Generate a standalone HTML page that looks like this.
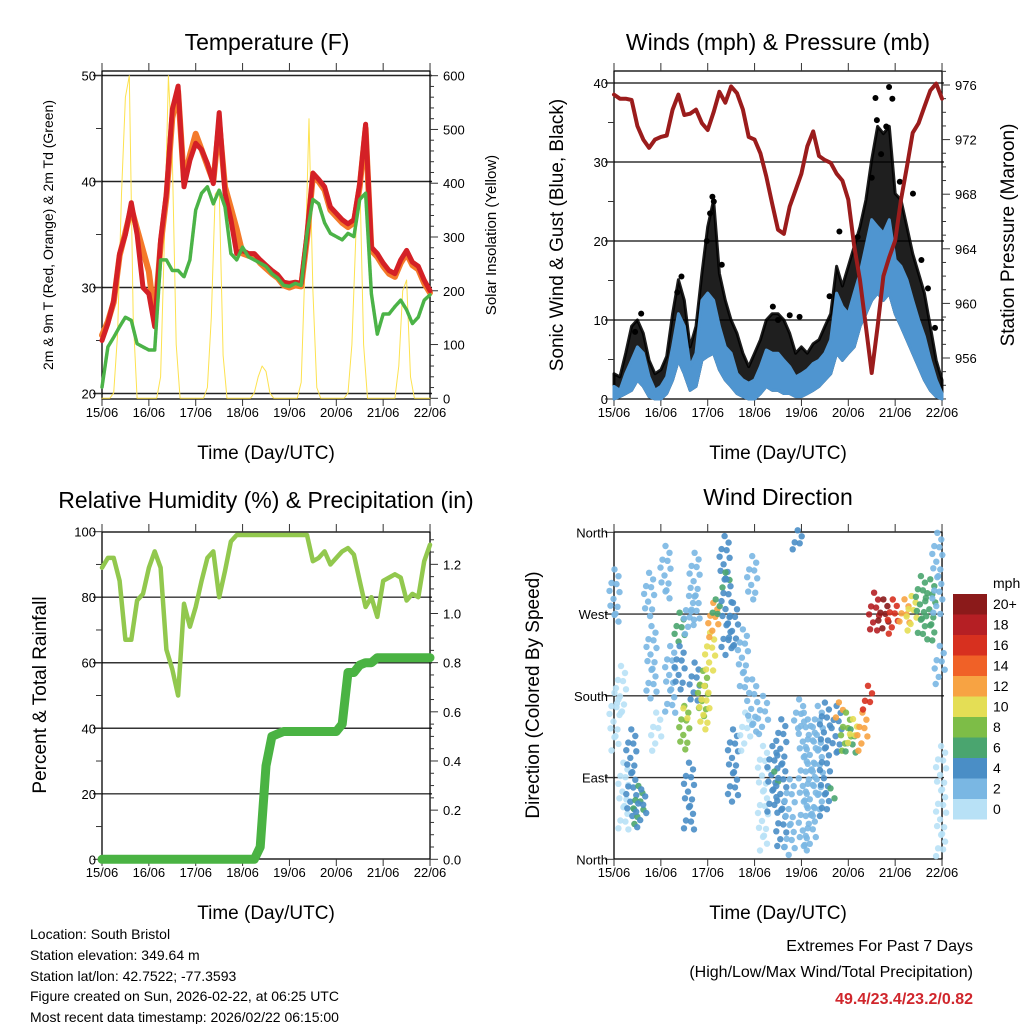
<!DOCTYPE html>
<html><head><meta charset="utf-8"><style>
body{margin:0;background:#fff}
svg{display:block;font-family:"Liberation Sans",Arial,sans-serif}
</style></head><body>
<svg id="root" width="1024" height="1024" viewBox="0 0 1024 1024" xmlns="http://www.w3.org/2000/svg">
<rect width="1024" height="1024" fill="#fff"/>
<g id="p1"></g>
<g id="p2"></g>
<g id="p3"></g>
<g id="p4"></g>
<text x="267" y="50" font-size="23" text-anchor="middle">Temperature (F)</text>
<text x="778" y="50" font-size="23" text-anchor="middle">Winds (mph) &amp; Pressure (mb)</text>
<text x="266" y="508" font-size="23" text-anchor="middle">Relative Humidity (%) &amp; Precipitation (in)</text>
<text x="778" y="505" font-size="23" text-anchor="middle">Wind Direction</text>
<text transform="translate(53,235) rotate(-90)" font-size="14" text-anchor="middle">2m &amp; 9m T (Red, Orange) &amp; 2m Td (Green)</text>
<text transform="translate(496,235) rotate(-90)" font-size="15" text-anchor="middle">Solar Insolation (Yellow)</text>
<text transform="translate(563,235) rotate(-90)" font-size="19" text-anchor="middle">Sonic Wind &amp; Gust (Blue, Black)</text>
<text transform="translate(1014,235) rotate(-90)" font-size="19" text-anchor="middle">Station Pressure (Maroon)</text>
<text transform="translate(46,695) rotate(-90)" font-size="19" text-anchor="middle">Percent &amp; Total Rainfall</text>
<text transform="translate(539,695) rotate(-90)" font-size="19" text-anchor="middle">Direction (Colored By Speed)</text>
<text x="266" y="459" font-size="19" text-anchor="middle">Time (Day/UTC)</text>
<text x="778" y="459" font-size="19" text-anchor="middle">Time (Day/UTC)</text>
<text x="266" y="919" font-size="19" text-anchor="middle">Time (Day/UTC)</text>
<text x="778" y="919" font-size="19" text-anchor="middle">Time (Day/UTC)</text>
<g font-size="14">
<text x="30" y="939">Location: South Bristol</text>
<text x="30" y="960">Station elevation: 349.64 m</text>
<text x="30" y="981">Station lat/lon: 42.7522; -77.3593</text>
<text x="30" y="1001">Figure created on Sun, 2026-02-22, at 06:25 UTC</text>
<text x="30" y="1022">Most recent data timestamp: 2026/02/22 06:15:00</text>
</g>
<text x="973" y="951" font-size="16" text-anchor="end">Extremes For Past 7 Days</text>
<text x="973" y="977" font-size="16" text-anchor="end">(High/Low/Max Wind/Total Precipitation)</text>
<text x="973" y="1004" font-size="16" font-weight="bold" fill="#d0262c" text-anchor="end">49.4/23.4/23.2/0.82</text>
<text x="993" y="588" font-size="14">mph</text>
<g id="cbar"></g>
</svg>
<script>
// ---------- data (samples every 1/8 day unless noted) ----------
const dayLabels = ["15/06","16/06","17/06","18/06","19/06","20/06","21/06","22/06"];
const tempRed = [25.0,26.6,28.8,33.2,35.0,38.0,35.0,30.0,29.4,26.3,34.5,38.9,46.8,49.0,39.5,42.0,43.6,43.0,41.7,39.8,46.5,38.9,36.4,33.2,33.5,33.2,33.2,32.6,32.1,31.6,31.2,30.5,30.4,30.5,30.4,35.0,40.8,40.2,39.5,37.6,37.0,36.4,36.0,36.4,39.8,45.4,33.8,33.2,32.3,31.6,31.3,32.6,33.5,32.4,32.0,30.7,29.7];
const tempOrange = [25.5,26.8,28.6,33.0,35.2,37.5,35.5,33.5,31.5,27.0,34.0,38.5,46.0,48.5,40.0,42.5,44.5,43.0,41.5,40.0,45.5,39.5,37.5,35.5,33.2,33.0,33.0,32.3,31.8,31.3,30.9,30.2,30.0,30.2,30.1,34.6,40.5,40.0,39.2,37.3,36.7,36.1,35.7,36.1,39.5,45.0,33.5,32.9,32.0,31.3,31.0,32.3,33.2,32.1,31.7,30.4,29.5];
const tempDew = [20.6,24.4,25.3,26.3,27.2,26.9,24.7,24.4,24.1,24.1,32.6,32.6,31.6,31.6,31.0,32.6,37.3,38.9,39.5,37.9,39.2,37.6,33.2,32.6,33.8,32.9,32.6,32.3,32.0,31.3,30.9,30.2,30.1,30.4,30.2,35.1,38.3,37.9,36.1,35.1,34.8,34.5,35.1,34.8,38.3,38.9,29.4,25.6,27.5,27.5,28.2,28.8,27.9,26.6,27.2,28.8,29.3];
// solar every 1/12 day
const solar = [0,0,0,10,120,380,560,600,150,0,0,0, 0,0,0,40,300,600,450,100,0,0,0,0, 0,0,0,20,150,380,390,80,0,0,0,0, 0,0,0,10,40,60,50,10,0,0,0,0, 0,0,0,30,250,520,200,20,0,0,0,0, 0,0,0,10,100,300,420,100,0,0,0,0, 0,0,0,0,60,200,220,40,0,0,0,0, 0];
const pressure = [975.3,975.0,975.0,974.9,973.0,972.0,971.4,972.0,972.2,972.3,974.2,975.3,973.8,973.9,974.2,973.2,972.7,974.0,975.5,974.7,975.9,975.4,974.2,972.2,972.0,971.0,969.3,967.3,965.4,965.1,967.1,968.3,969.5,971.5,972.6,970.8,970.5,970.3,969.5,969.0,967.6,964.2,961.7,958.3,954.9,958.3,962.0,963.4,964.6,967.6,970.0,972.5,973.2,974.4,975.6,976.1,975.0];
const gust = [3.2,2.8,5.8,9.2,10.0,8.3,4.9,3.2,3.7,5.4,10.8,15.1,12.5,6.6,9.2,15.9,21.8,25.2,15.9,12.5,10.0,8.3,5.8,4.1,5.8,7.5,10.0,10.8,10.8,10.0,8.3,5.8,6.6,5.8,7.0,7.5,9.2,10.8,16.8,14.3,16.8,19.3,21.8,25.2,30.3,34.5,33.6,34.5,26.0,25.2,21.8,18.4,15.9,13.4,9.2,4.9,2.4];
const windHigh = [1.6,1.1,3.2,4.9,6.6,5.8,2.8,1.1,1.6,2.8,6.6,10.8,9.2,4.1,5.8,12.5,13.4,12.5,9.2,6.6,5.8,3.2,2.4,2.0,2.4,4.1,6.2,5.8,5.8,4.9,4.1,2.8,3.2,3.7,4.5,4.9,5.8,7.5,13.4,11.7,10.8,13.4,15.9,19.3,22.7,21.8,21.0,22.7,17.6,16.8,15.1,12.5,10.0,7.9,4.9,2.4,0.7];
const windLow = [0,0.3,0.7,1.1,2.4,1.6,0.3,0,0,0.7,2.4,4.9,3.2,1.1,1.6,4.9,5.4,5.8,3.7,2.4,1.6,0.7,0.3,0,0,0.7,1.6,1.1,1.1,0.7,0.7,0.3,0.3,0.7,1.1,1.6,2.4,3.2,5.8,4.9,5.8,6.6,9.2,10.8,12.5,13.4,12.5,13.4,10.8,9.2,7.5,5.8,4.1,2.4,1.1,0.3,0];
const gustDotDays = [5.58,5.87,5.94,5.61,5.81,2.10,2.13,4.81,3.39,3.96,3.75,1.44,0.58,6.38,6.56,5.70,5.50,2.05,1.98,0.45,1.35,2.30,3.50,4.60,5.20,6.10,6.70,6.85];
const gustDotValues = [38.1,39.5,38.0,35.3,34.5,25.6,25.0,21.2,11.7,10.4,10.6,15.5,10.8,26.0,17.6,31.0,28.0,23.5,20.0,8.5,13.5,17.0,10.0,13.0,20.5,27.5,14.0,9.0];
const rh = [89,92,92,85,67,67,79,81,89,94,89,64,58,50,78,71,77,85,92,94,80,88,97,99,99,99,99,99,99,99,99,99,99,99,99,99,91,92,94,90,92,94,95,93,85,77,80,74,85,86,87,86,79,81,80,91,96];
const precip = [0,0,0,0,0,0,0,0,0,0,0,0,0,0,0,0,0,0,0,0,0,0,0,0,0,0,0,0.05,0.38,0.5,0.51,0.52,0.52,0.52,0.52,0.52,0.52,0.52,0.52,0.52,0.52,0.55,0.76,0.76,0.79,0.8,0.8,0.82,0.82,0.82,0.82,0.82,0.82,0.82,0.82,0.82,0.82];
// wind direction streaks: day, direction top/bottom (deg), speed (mph)
const dirDays = [0.01,0.01,0.15,0.2,0.37,0.52,0.58,0.75,0.8,0.9,1.1,1.2,1.4,1.4,1.5,1.48,1.6,1.6,1.72,1.72,1.9,1.93,2.05,2.12,2.17,2.36,2.38,2.4,2.54,2.54,2.75,2.8,2.95,2.95,3.18,3.18,3.38,3.42,3.57,3.75,3.92,3.95,4.05,4.2,4.35,4.5,4.62,4.75,4.8,4.95,5.05,5.1,5.3,5.42,5.55,5.75,5.95,6.2,6.35,6.55,6.75,6.9,6.95,6.98];
const dirTop = [316.7,180.9,210.3,103.9,140.6,78.2,74.5,313,254.3,158.9,342.4,232.3,269,232.3,166.3,162.6,287.4,103.9,335,214,205,188.3,247,280,283.7,353.4,313,305.7,280,140.6,250.7,158.9,331.4,195.6,122.2,177.3,122.2,92.9,151.6,85.6,360,173.6,158.9,144.3,166.3,170,74.5,166.3,170,158.9,140.6,151.6,158.9,188.3,291,283.7,283.7,283.7,287.4,309.4,305.7,357,232.3,122.2];
const dirBottom = [261.7,122.2,158.9,30.5,48.9,41.5,37.9,269,177.3,122.2,287.4,158.9,239.7,188.3,122.2,155.3,250.7,30.5,258,173.6,158.9,144.3,206.6,247,269,305.7,302,225,232.3,63.5,188.3,122.2,287.4,140.6,12.2,140.6,48.9,85.6,12.2,4.8,342.4,144.3,12.2,12.2,48.9,48.9,67.2,115,158.9,122.2,115,129.6,122.2,166.3,250.7,254.3,250.7,258,254.3,247,239.7,269,195.6,4.8];
const dirSpeed = [2,1,1,0,4,6,4,2,3,1,2,2,6,4,8,10,3,4,2,4,8,10,11,12,7,4,6,4,4,4,3,1,2,2,1,2,4,6,4,3,4,2,3,2,3,4,6,5,12,8,6,10,13,16,19,20,16,12,10,7,6,2,2,1];
const speedColors = ["#b8e1f6","#7ab7e3","#4a8ec6","#4aa56f","#7dbd47","#e4de55","#f7a343","#f06127","#d7301f","#b51f24","#8b1a1a"];
const speedLabels = ["0","2","4","6","8","10","12","14","16","18","20+"];

// ---------- helpers ----------
const NS="http://www.w3.org/2000/svg";
function el(tag, parent, attrs){const e=document.createElementNS(NS,tag);for(const k in attrs)e.setAttribute(k,attrs[k]);parent.appendChild(e);return e;}
const X1=d=>102+d*46.86, X2=d=>614+d*46.86;
const yT=v=>393.5-(v-20)*10.6, yS=v=>398.3-v*0.5377;
const yW=v=>399-v*7.9, yP=v=>85+(976-v)*13.65;
const yR=v=>859.3-v*3.276, yPr=v=>859.3-v*245.8;
const yD=v=>859.3-v*0.9083;
function pts(vals, X, Y, step){return vals.map((v,i)=>X(i*step).toFixed(1)+","+Y(v).toFixed(1)).join(" ");}
function series(parent, vals, X, Y, step, color, w, name){
  const e=el("polyline",parent,{points:pts(vals,X,Y,step),fill:"none",stroke:color,"stroke-width":w,"stroke-linejoin":"round","stroke-linecap":"round"});
  
  
  return e;
}
function band(parent, lo, hi, X, Y, step, color, name, op){
  const a=hi.map((v,i)=>X(i*step).toFixed(1)+","+Y(v).toFixed(1));
  const b=lo.map((v,i)=>X(i*step).toFixed(1)+","+Y(v).toFixed(1)).reverse();
  const e=el("polygon",parent,{points:a.concat(b).join(" "),fill:color,stroke:color,"stroke-width":3,"stroke-linejoin":"round","fill-opacity":op,"stroke-opacity":op});
  
  
}
function frame(g, x0, X, top, bottom, leftTicks, rightTicks, grid, gridColor){
  const x1=X(7);
  grid.forEach(y=>{const e=el("line",g,{x1:x0-9,x2:x1+2,y1:y,y2:y,stroke:gridColor,"stroke-width":1.4});
    
    });
  const r=el("rect",g,{x:x0,y:top,width:x1-x0,height:bottom-top,fill:"none",stroke:"#000","stroke-width":1.3});
  
  
  for(let d=0;d<=7;d++){
    const x=X(d);
    el("line",g,{x1:x,x2:x,y1:top-8,y2:top,stroke:"#333","stroke-width":1});
    el("line",g,{x1:x,x2:x,y1:bottom,y2:bottom+7,stroke:"#333","stroke-width":1});
    const t=el("text",g,{x:x,y:bottom+18,"font-size":13,"text-anchor":"middle"});
    t.textContent=dayLabels[d];
    
    
  }
  leftTicks.forEach(([y,lab,maj])=>{
    el("line",g,{x1:x0-(maj?9:6),x2:x0,y1:y,y2:y,stroke:"#333","stroke-width":1});
    if(lab!==null){const t=el("text",g,{x:x0-6,y:y+5,"font-size":13,"text-anchor":"end"});t.textContent=lab;
      
      }
  });
  rightTicks.forEach(([y,lab,maj])=>{
    el("line",g,{x1:x1,x2:x1+(maj?8:4),y1:y,y2:y,stroke:"#333","stroke-width":1});
    if(lab!==null){const t=el("text",g,{x:x1+13,y:y+5,"font-size":13});t.textContent=lab;
      
      }
  });
}

// ---------- panel 1: temperature ----------
const p1=document.getElementById("p1");
{
  const lt=[],rt=[];
  for(let v=20;v<=50;v+=5)lt.push([yT(v),v%10==0?String(v):null,v%10==0]);
  for(let v=0;v<=600;v+=20)rt.push([yS(v),v%100==0?String(v):null,v%100==0]);
  frame(p1,102,X1,71,399,lt,rt,[yT(20),yT(30),yT(40),yT(50)],"#222");
  series(p1,solar,X1,yS,1/12,"#fde24f",1,"solar-insolation-line");
  series(p1,tempOrange,X1,yT,1/8,"#f47a2a",6,"temperature-9m-line");
  series(p1,tempRed,X1,yT,1/8,"#d42026",5,"temperature-2m-line");
  const g=series(p1,tempDew,X1,yT,1/8,"#4bb347",3.5,"dewpoint-line");
  g.setAttribute("stroke-dasharray","3 1");
}
// ---------- panel 2: winds & pressure ----------
const p2=document.getElementById("p2");
{
  const lt=[],rt=[];
  for(let v=0;v<=40;v+=5)lt.push([yW(v),v%10==0?String(v):null,v%10==0]);
  for(let v=953;v<=977;v+=1)rt.push([yP(v),v%4==0?String(v):null,v%4==0]);
  frame(p2,614,X2,71,399,lt,rt,[yW(10),yW(20),yW(30),yW(40)],"#333");
  band(p2,windLow,gust,X2,yW,1/8,"#000","gust-band",0.88);
  gustDotDays.forEach((d,i)=>{
    const c=el("circle",p2,{cx:X2(d),cy:yW(gustDotValues[i]),r:3,fill:"#000"});
    
    
  });
  band(p2,windLow,windHigh,X2,yW,1/8,"#4f95d0","sonic-wind-band",1);
  series(p2,pressure,X2,yP,1/8,"#9b1c1c",4,"pressure-line");
}
// ---------- panel 3: humidity & precip ----------
const p3=document.getElementById("p3");
{
  const lt=[],rt=[];
  for(let v=0;v<=100;v+=10)lt.push([yR(v),v%20==0?String(v):null,v%20==0]);
  for(let k=0;k<=26;k++){const v=k*0.05;rt.push([yPr(v),k%4==0?v.toFixed(1):null,k%4==0]);}
  frame(p3,102,X1,532,859,lt,rt,[yR(20),yR(40),yR(60),yR(80)],"#333");
  series(p3,rh,X1,yR,1/8,"#92c84e",4.5,"humidity-line");
  series(p3,precip,X1,yPr,1/8,"#4ab343",9,"precipitation-line");
}
// ---------- panel 4: wind direction ----------
const p4=document.getElementById("p4");
{
  const lt=[[yD(360),"North",true],[yD(270),"West",true],[yD(180),"South",true],[yD(90),"East",true],[yD(0),"North",true]];
  frame(p4,614,X2,532,859,lt,[],[yD(270),yD(180),yD(90)],"#333");
  const jx=[0,4,-3,2,-5,5,-1,-4,3,1];
  dirDays.forEach((d,i)=>{
    const c=speedColors[Math.min(10,Math.floor(dirSpeed[i]/2))];
    const y0=yD(dirTop[i]), y1=yD(dirBottom[i]);
    const n=Math.max(1,Math.round((y1-y0)/4.5));
    for(let k=0;k<=n;k++){
      const dot=el("circle",p4,{cx:(X2(d)+jx[k%10]).toFixed(1),cy:(y0+(y1-y0)*(k+((k*7)%5-2)*0.25)/n).toFixed(1),r:3.2,fill:c,"fill-opacity":0.9});
      
      
    }
  });
}
// ---------- colorbar ----------
const cb=document.getElementById("cbar");
speedColors.slice().reverse().forEach((c,i)=>{
  const r=el("rect",cb,{x:953,y:594+i*20.5,width:34,height:20.5,fill:c});
  
  
  const t=el("text",cb,{x:993,y:594+i*20.5+15,"font-size":14});
  t.textContent=speedLabels[10-i];
  
  
});
</script>
</body></html>
